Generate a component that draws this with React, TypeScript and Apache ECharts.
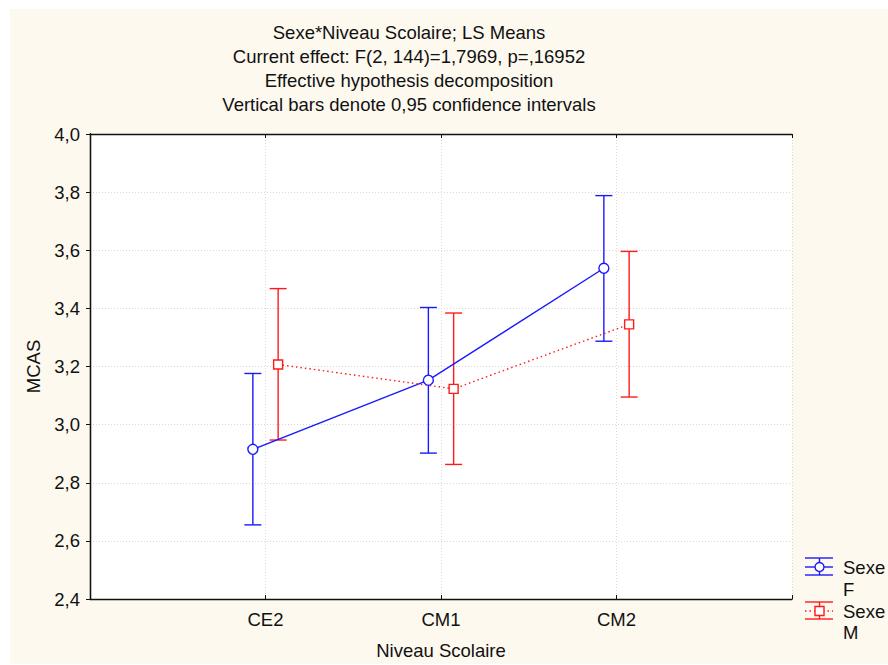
import React, { useEffect, useRef } from "react";
import * as echarts from "echarts";

const categories = ["CE2", "CM1", "CM2"];
const seriesNames = ["Sexe F", "Sexe M"];
const meanF = [2.915, 3.153, 3.538];
const lowF = [2.655, 2.902, 3.287];
const highF = [3.176, 3.403, 3.788];
const meanM = [3.207, 3.123, 3.345];
const lowM = [2.947, 2.863, 3.095];
const highM = [3.468, 3.384, 3.596];
const yTicks = [2.4, 2.6, 2.8, 3.0, 3.2, 3.4, 3.6, 3.8, 4.0];
const titleLines = [
  "Sexe*Niveau Scolaire; LS Means",
  "Current effect: F(2, 144)=1,7969, p=,16952",
  "Effective hypothesis decomposition",
  "Vertical bars denote 0,95 confidence intervals",
];
const xAxisTitle = "Niveau Scolaire";
const yAxisTitle = "MCAS";

const BLUE = "#1a1aff";
const RED = "#ff1a1a";
const FONT = "Liberation Sans, Arial, sans-serif";
const FS = 18.5;
const TXT = "#111111";
const OFFSET = 0.072;

export default function App() {
  const ref = useRef<HTMLDivElement>(null);
  useEffect(() => {
    if (!ref.current) return;
    const chart = echarts.init(ref.current, null, { renderer: "svg" });

    const pts = (means: number[], off: number) =>
      means.map((m, i) => [i + 1 + off, m]);
    const bars = (lo: number[], hi: number[], off: number) =>
      lo.map((l, i) => [i + 1 + off, l, hi[i]]);

    const errRender = (color: string) => (params: any, api: any) => {
      const x = api.value(0);
      const p1 = api.coord([x, api.value(1)]);
      const p2 = api.coord([x, api.value(2)]);
      const hw = 8.5;
      const style = { stroke: color, lineWidth: 1.4 };
      return {
        type: "group",
        children: [
          { type: "line", shape: { x1: p1[0], y1: p1[1], x2: p2[0], y2: p2[1] }, style },
          { type: "line", shape: { x1: p1[0] - hw, y1: p1[1], x2: p1[0] + hw, y2: p1[1] }, style },
          { type: "line", shape: { x1: p2[0] - hw, y1: p2[1], x2: p2[0] + hw, y2: p2[1] }, style },
        ],
      };
    };

    const labelFmt = (v: number) => {
      const idx = Math.round(v) - 1;
      return Math.abs(v - Math.round(v)) < 1e-6 && idx >= 0 && idx < categories.length
        ? categories[idx]
        : "";
    };

    const splitStyle = { show: true, lineStyle: { color: "#d8d8d8", type: [1, 2] as any, width: 1 } };
    const axisLineStyle = { show: true, lineStyle: { color: "#111", width: 1.3 } };

    const legendIcon = (cy: number, color: string, circle: boolean) => {
      const x1 = 805, x2 = 833, cx = 819.5;
      const st = { stroke: color, lineWidth: 1.4 };
      const items: any[] = [
        { type: "line", shape: { x1, y1: cy - 9, x2, y2: cy - 9 }, style: st },
        { type: "line", shape: { x1, y1: cy + 8, x2, y2: cy + 8 }, style: st },
        { type: "line", shape: { x1: cx, y1: cy - 9, x2: cx, y2: cy + 8 }, style: st },
      ];
      if (circle) {
        items.push({ type: "line", shape: { x1, y1: cy, x2, y2: cy }, style: st });
        items.push({ type: "circle", shape: { cx, cy, r: 4.5 }, style: { stroke: color, fill: "#fff", lineWidth: 1.4 } });
      } else {
        items.push({ type: "line", shape: { x1, y1: cy, x2, y2: cy }, style: { stroke: color, lineWidth: 1.4, lineDash: [1.5, 3] } });
        items.push({ type: "rect", shape: { x: cx - 4.5, y: cy - 4.5, width: 9, height: 9 }, style: { stroke: color, fill: "#fff", lineWidth: 1.4 } });
      }
      return items;
    };

    const legendText = (y: number, t: string) => ({
      type: "text",
      x: 843,
      y,
      style: { text: t, font: `${FS}px ${FONT}`, fill: TXT, verticalAlign: "middle" },
    });

    const option: any = {
      animation: false,
      backgroundColor: "#ffffff",
      textStyle: { fontFamily: FONT },
      grid: { left: 90, top: 134, right: 96, bottom: 65, show: true, backgroundColor: "#ffffff", borderWidth: 0 },
      graphic: [
        { type: "rect", z: -10, silent: true, shape: { x: 10, y: 9, width: 878, height: 655 }, style: { fill: "#fdf9ef" } },
        {
          type: "text",
          x: 409,
          y: 20,
          style: {
            text: titleLines.join("\n"),
            font: `${FS}px ${FONT}`,
            fill: TXT,
            align: "center",
            lineHeight: 24,
          },
        },
        ...legendIcon(567, BLUE, true),
        ...legendIcon(611, RED, false),
        legendText(567, "Sexe"),
        legendText(589, "F"),
        legendText(611, "Sexe"),
        legendText(632, "M"),
      ],
      xAxis: [
        {
          type: "value",
          min: 0,
          max: 4,
          interval: 1,
          position: "bottom",
          name: xAxisTitle,
          nameLocation: "middle",
          nameGap: 42,
          nameTextStyle: { fontSize: FS, color: TXT, fontFamily: FONT },
          axisLine: axisLineStyle,
          axisTick: { show: true, inside: true, length: 4, lineStyle: { color: "#111" } },
          axisLabel: { formatter: labelFmt, fontSize: FS, color: TXT, margin: 11, fontFamily: FONT },
          splitLine: splitStyle,
        },
        {
          type: "value",
          min: 0,
          max: 4,
          interval: 1,
          position: "top",
          axisLine: axisLineStyle,
          axisTick: { show: true, inside: true, length: 4, lineStyle: { color: "#111" } },
          axisLabel: { show: false },
          splitLine: { show: false },
        },
      ],
      yAxis: [
        {
          type: "value",
          min: yTicks[0],
          max: yTicks[yTicks.length - 1],
          interval: 0.2,
          position: "left",
          name: yAxisTitle,
          nameLocation: "middle",
          nameGap: 47,
          nameRotate: 90,
          nameTextStyle: { fontSize: FS, color: TXT, fontFamily: FONT },
          axisLine: axisLineStyle,
          axisTick: { show: true, inside: false, length: 4, lineStyle: { color: "#111" } },
          axisLabel: {
            fontSize: FS,
            color: TXT,
            margin: 10,
            fontFamily: FONT,
            formatter: (v: number) => v.toFixed(1).replace(".", ","),
          },
          splitLine: splitStyle,
        },
        {
          type: "value",
          min: yTicks[0],
          max: yTicks[yTicks.length - 1],
          interval: 0.2,
          position: "right",
          axisLine: axisLineStyle,
          axisTick: { show: true, inside: true, length: 4, lineStyle: { color: "#111" } },
          axisLabel: { show: false },
          splitLine: { show: false },
        },
      ],
      series: [
        {
          name: seriesNames[0],
          type: "line",
          data: pts(meanF, -OFFSET),
          lineStyle: { color: BLUE, width: 1.4 },
          itemStyle: { color: "#ffffff", borderColor: BLUE, borderWidth: 1.4 },
          symbol: "circle",
          symbolSize: 10,
          z: 5,
        },
        {
          name: seriesNames[1],
          type: "line",
          data: pts(meanM, OFFSET),
          lineStyle: { color: RED, width: 1.4, type: [1.5, 3] },
          itemStyle: { color: "#ffffff", borderColor: RED, borderWidth: 1.4 },
          symbol: "rect",
          symbolSize: 9,
          z: 5,
        },
        {
          name: seriesNames[0] + " CI",
          type: "custom",
          renderItem: errRender(BLUE),
          data: bars(lowF, highF, -OFFSET),
          encode: { x: 0, y: [1, 2] },
          z: 3,
        },
        {
          name: seriesNames[1] + " CI",
          type: "custom",
          renderItem: errRender(RED),
          data: bars(lowM, highM, OFFSET),
          encode: { x: 0, y: [1, 2] },
          z: 3,
        },
      ],
    };
    chart.setOption(option);
    return () => chart.dispose();
  }, []);
  return (
    <div
      ref={ref}
      style={{ position: "absolute", left: 0, top: 0, width: 888, height: 665 }}
    />
  );
}
